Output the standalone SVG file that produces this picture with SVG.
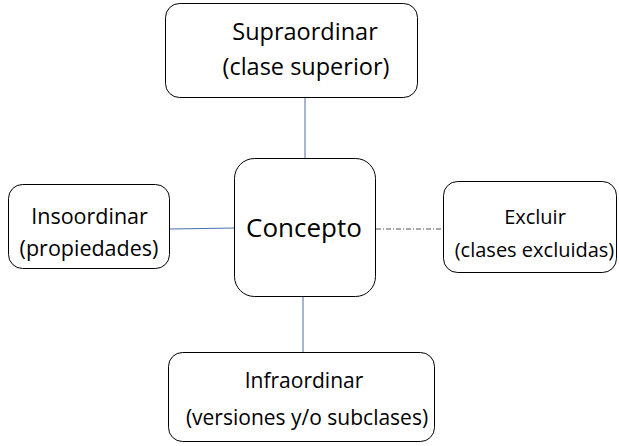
<svg xmlns="http://www.w3.org/2000/svg" width="619" height="446" viewBox="0 0 619 446">
<style>
.box{fill:#fff;stroke:#000;stroke-width:1}
.t{font-family:"Open Sans","Liberation Sans",sans-serif;fill:#000;text-anchor:middle}
.a{font-size:23.5px}
.b{font-size:21.5px}
.c{font-size:20px}
.d{font-size:21px}
.big{font-size:26px}
.ln{stroke:#4a6fb0;stroke-width:1;fill:none}
.dd{stroke:#555;stroke-width:1;fill:none;stroke-dasharray:5 2 1 2}
</style>
<rect width="619" height="446" fill="#fff"/>
<g id="connectors">
<line class="ln" x1="305" y1="97" x2="305" y2="158"/>
<line class="ln" x1="303" y1="296" x2="303" y2="352"/>
<line class="ln" x1="170" y1="229" x2="234" y2="228"/>
<line class="dd" x1="376" y1="229" x2="443" y2="229"/>
</g>
<g id="supraordinar">
<rect class="box" x="165.5" y="3.5" width="252" height="94" rx="14"/>
<text class="t a" x="305" y="39.5">Supraordinar</text>
<text class="t a" x="306" y="75">(clase superior)</text>
</g>
<g id="concepto">
<rect class="box" x="234.5" y="158.5" width="141" height="138" rx="20"/>
<text class="t big" x="304" y="237">Concepto</text>
</g>
<g id="insoordinar">
<rect class="box" x="8.5" y="184.5" width="161" height="84" rx="14"/>
<text class="t b" x="89.5" y="224">Insoordinar</text>
<text class="t b" x="89" y="256">(propiedades)</text>
</g>
<g id="excluir">
<rect class="box" x="443.5" y="181.5" width="173" height="91" rx="14"/>
<text class="t c" x="535" y="224">Excluir</text>
<text class="t c" x="534.5" y="257">(clases excluidas)</text>
</g>
<g id="infraordinar">
<rect class="box" x="168.5" y="352.5" width="266" height="89" rx="14"/>
<text class="t d" x="304" y="388">Infraordinar</text>
<text class="t d" x="307" y="425">(versiones y/o subclases)</text>
</g>
</svg>
